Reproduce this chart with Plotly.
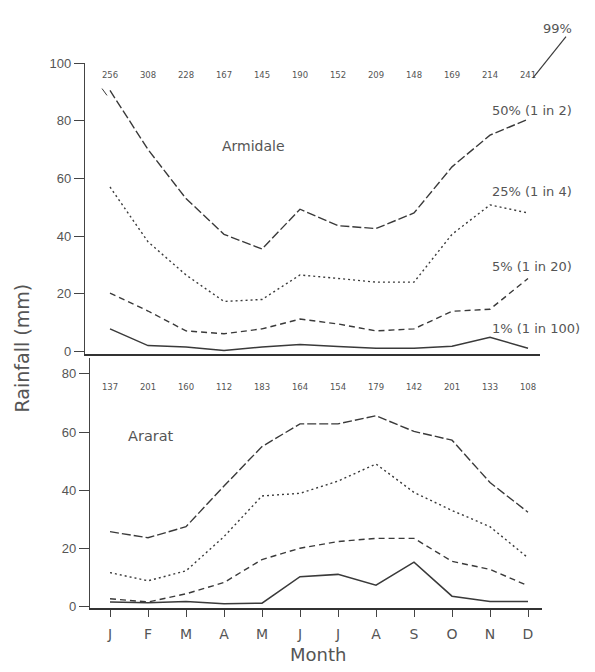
import plotly.graph_objects as go

W, H = 595, 672
OFF = 8  # page body margin of the exported html

months = ["J", "F", "M", "A", "M", "J", "J", "A", "S", "O", "N", "D"]
xi = list(range(12))

# Armidale (top panel)
arm_99 = ["256", "308", "228", "167", "145", "190", "152", "209", "148", "169", "214", "241"]
arm_50 = [90.5, 70, 53, 40.6, 35.5, 49.3, 43.6, 42.6, 48, 64, 75, 80.5]
arm_25 = [57, 38, 26.5, 17.3, 18, 26.5, 25.3, 24, 24, 40.6, 50.8, 48]
arm_5 = [20.2, 14, 7.1, 6.1, 7.8, 11.2, 9.5, 7.1, 7.8, 13.9, 14.6, 25.3]
arm_1 = [7.8, 2, 1.5, 0.3, 1.5, 2.4, 1.7, 1.1, 1.1, 1.8, 4.9, 1.1]

# Ararat (bottom panel)
ara_99 = ["137", "201", "160", "112", "183", "164", "154", "179", "142", "201", "133", "108"]
ara_50 = [25.7, 23.6, 27.4, 41.4, 55, 62.8, 62.8, 65.6, 60.2, 57.2, 42.6, 32.4]
ara_25 = [11.6, 8.8, 12.2, 24, 38, 38.9, 43.1, 49, 39.2, 33, 27.4, 16.7]
ara_5 = [2.6, 1.5, 4.3, 8.2, 16.1, 20, 22.3, 23.4, 23.4, 15.5, 12.7, 7.1]
ara_1 = [1.5, 1.2, 1.7, 0.9, 1.1, 10.2, 11, 7.3, 15.2, 3.5, 1.7, 1.7]

top_ticks = [0, 20, 40, 60, 80, 100]
bot_ticks = [0, 20, 40, 60, 80]

series_labels = ["50% (1 in 2)", "25% (1 in 4)", "5% (1 in 20)", "1% (1 in 100)"]
label_y = [83.5, 55.5, 29.3, 7.8]

LC = "#3a3a3a"
TXT = "#555555"
FONT = "DejaVu Sans, Liberation Sans, sans-serif"
TICKFONT = "Liberation Sans, Arial, sans-serif"
styles = [("9px,3px", 1.4), ("2px,3px", 1.4), ("6px,4px", 1.4), ("solid", 1.5)]


def px_x(p):
    return (p - OFF) / W


def px_y(p):
    return 1 - (p - OFF) / H


# x mapping: J at 110px, D at 528px (screen pixels)
step = (528 - 110) / 11


def x_range_for(left, right):
    return [-(110 - left) / step, 11 + (right - 528) / step]


top_xdom = [85, 540]
bot_xdom = [90, 542]

fig = go.Figure()

for vals, (dash, w) in zip([arm_50, arm_25, arm_5, arm_1], styles):
    fig.add_trace(go.Scatter(x=xi, y=vals, mode="lines", xaxis="x", yaxis="y",
                             line=dict(color=LC, width=w, dash=dash), showlegend=False,
                             hoverinfo="skip"))
for vals, (dash, w) in zip([ara_50, ara_25, ara_5, ara_1], styles):
    fig.add_trace(go.Scatter(x=xi, y=vals, mode="lines", xaxis="x2", yaxis="y2",
                             line=dict(color=LC, width=w, dash=dash), showlegend=False,
                             hoverinfo="skip"))

# 99% value rows
fig.add_trace(go.Scatter(x=xi, y=[95.6] * 12, text=arm_99, mode="text", xaxis="x", yaxis="y",
                         textfont=dict(size=8.5, color=TXT, family=FONT), showlegend=False,
                         cliponaxis=False, hoverinfo="skip"))
fig.add_trace(go.Scatter(x=xi, y=[75.3] * 12, text=ara_99, mode="text", xaxis="x2", yaxis="y2",
                         textfont=dict(size=8.5, color=TXT, family=FONT), showlegend=False,
                         cliponaxis=False, hoverinfo="skip"))

# top panel: y 100 at 57px, horizontal line at 354px, 0 at 351px
top_ppu = (351 - 57) / 100
top_range = [-(354 - 351) / top_ppu, 100]
# bottom panel: 80 at 374px, 0 at 611px; axis from 358 to 613
bot_ppu = (611 - 374) / 80
bot_range = [-(613 - 611) / bot_ppu, 80 + (374 - 358) / bot_ppu]

tickfont = dict(size=13, color=TXT, family=TICKFONT)

fig.update_layout(
    width=W, height=H,
    margin=dict(l=0, r=0, t=0, b=0),
    paper_bgcolor="white", plot_bgcolor="white",
    font=dict(family=FONT, color=TXT),
    xaxis=dict(domain=[px_x(top_xdom[0]), px_x(top_xdom[1])],
               range=x_range_for(*top_xdom), anchor="y",
               showline=True, linecolor="#333", linewidth=1.6, ticks="",
               showticklabels=False, showgrid=False, zeroline=False),
    yaxis=dict(domain=[px_y(354), px_y(57)], range=top_range, anchor="x",
               showline=True, linecolor="#444", linewidth=1.3,
               ticks="outside", ticklen=10, tickcolor="#444", tickwidth=1.3,
               tickvals=top_ticks, tickfont=tickfont, showgrid=False, zeroline=False),
    xaxis2=dict(domain=[px_x(bot_xdom[0]), px_x(bot_xdom[1])],
                range=x_range_for(*bot_xdom), anchor="y2",
                showline=True, linecolor="#333", linewidth=1.6, ticks="outside",
                ticklen=7, tickcolor="#444", tickwidth=1.2, ticklabelstandoff=5,
                tickvals=xi, ticktext=months, tickfont=dict(size=14, color=TXT, family=FONT),
                showgrid=False, zeroline=False),
    yaxis2=dict(domain=[px_y(613), px_y(358)], range=bot_range, anchor="x2",
                showline=True, linecolor="#444", linewidth=1.3,
                ticks="outside", ticklen=10, tickcolor="#444", tickwidth=1.3,
                tickvals=bot_ticks, tickfont=tickfont, showgrid=False, zeroline=False),
)

anns = []
for lab, ly in zip(series_labels, label_y):
    anns.append(dict(x=(490 - 110) / step, y=ly, xref="x", yref="y", text=lab,
                     showarrow=False, xanchor="left", yanchor="middle",
                     font=dict(size=13, color=TXT, family=FONT)))
anns.append(dict(x=(253 - 110) / step, y=71.2, xref="x", yref="y", text="Armidale",
                 showarrow=False, xanchor="center", yanchor="middle",
                 font=dict(size=14, color=TXT, family=FONT)))
anns.append(dict(x=(126 - 110) / step, y=58.8, xref="x2", yref="y2", text="Ararat",
                 showarrow=False, xanchor="left", yanchor="middle",
                 font=dict(size=14.5, color=TXT, family=FONT)))
anns.append(dict(x=px_x(557), y=px_y(22), xref="paper", yref="paper", text="99%",
                 showarrow=False, xanchor="center", yanchor="middle",
                 font=dict(size=13, color=TXT, family=FONT)))
anns.append(dict(x=px_x(22), y=px_y(348), xref="paper", yref="paper", text="Rainfall (mm)",
                 textangle=-90, showarrow=False, xanchor="center", yanchor="middle",
                 font=dict(size=19, color=TXT, family=FONT)))
anns.append(dict(x=px_x(318), y=px_y(660), xref="paper", yref="paper", text="Month",
                 showarrow=False, xanchor="center", yanchor="middle",
                 font=dict(size=18, color=TXT, family=FONT)))
fig.update_layout(annotations=anns)

fig.add_shape(type="line", xref="paper", yref="paper",
              x0=px_x(533), y0=px_y(72), x1=px_x(566), y1=px_y(30),
              line=dict(color=LC, width=1.2))
fig.add_shape(type="line", xref="paper", yref="paper",
              x0=px_x(102), y0=px_y(83), x1=px_x(107), y1=px_y(90),
              line=dict(color=LC, width=1))

fig.write_html("out.html")
